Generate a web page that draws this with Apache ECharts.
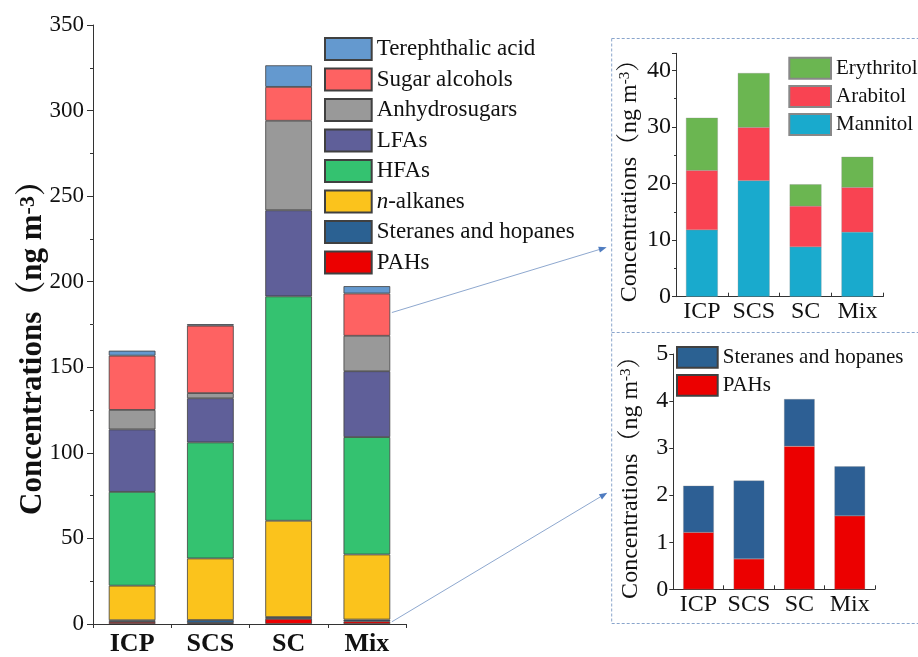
<!DOCTYPE html>
<html><head><meta charset="utf-8">
<script src="https://cdn.jsdelivr.net/npm/echarts@6/dist/echarts.min.js"></script>
<style>html,body{margin:0;padding:0;background:#fff}#c{width:918px;height:657px}</style>
</head><body><div id="c"></div>
<script>
// ---------- data ----------
const categories = ['ICP', 'SCS', 'SC', 'Mix'];
const pahs       = [1.21, 0.645, 3.04, 1.56];
const steranes   = [0.99, 1.665, 1.0, 1.05];
const nAlkanes   = [20.2, 36.0, 56.3, 38.0];
const hfas       = [54.8, 67.8, 131.1, 68.6];
const lfas       = [36.5, 25.8, 50.3, 38.5];
const anhydro    = [11.4, 3.0, 52.3, 20.7];
const sugarAlc   = [31.7, 39.4, 19.8, 24.7];
const tereph     = [2.9, 0.9, 12.6, 4.3];
const mannitol   = [11.8, 20.5, 8.8, 11.4];
const arabitol   = [10.5, 9.4, 7.2, 7.9];
const erythritol = [9.3, 9.6, 3.85, 5.4];
const mainTicks  = [0, 350, 50];
const sugarTicks = [0, 43, 10];
const pahTicks   = [0, 5, 1];

// ---------- styles ----------
const F = "'Liberation Serif', 'Noto Serif CJK SC', 'Noto Sans CJK SC', serif";
const mainColors = {
  'PAHs': '#ec0000', 'Steranes and hopanes': '#2b6192', 'n-alkanes': '#fbc31c',
  'HFAs': '#34c270', 'LFAs': '#5f5f99', 'Anhydrosugars': '#999999',
  'Sugar alcohols': '#fe6262', 'Terephthalic acid': '#6499cf'
};
const mainSeriesDef = [
  ['PAHs', pahs], ['Steranes and hopanes', steranes], ['n-alkanes', nAlkanes],
  ['HFAs', hfas], ['LFAs', lfas], ['Anhydrosugars', anhydro],
  ['Sugar alcohols', sugarAlc], ['Terephthalic acid', tereph]
];
const series = [];
mainSeriesDef.forEach(([name, data]) => {
  series.push({
    name, type: 'bar', stack: 'main', xAxisIndex: 0, yAxisIndex: 0, data,
    barWidth: 46.7,
    itemStyle: { color: mainColors[name], borderColor: '#404040', borderWidth: 0.8 }
  });
});
[['Mannitol', mannitol, '#19aacd'], ['Arabitol', arabitol, '#f94352'], ['Erythritol', erythritol, '#6bb651']]
  .forEach(([name, data, color]) => {
    series.push({ name, type: 'bar', stack: 'sugar', xAxisIndex: 1, yAxisIndex: 1, data,
      barWidth: 31.7, itemStyle: { color, borderColor: '#888', borderWidth: 0.3 } });
  });
[['PAHs', pahs, '#ec0000'], ['Steranes and hopanes', steranes, '#2d5f94']]
  .forEach(([name, data, color]) => {
    series.push({ name, type: 'bar', stack: 'pah', xAxisIndex: 2, yAxisIndex: 2, data,
      barWidth: 30.5, itemStyle: { color, borderColor: '#888', borderWidth: 0.3 } });
  });

const axisLineStyle = { color: '#333', width: 1 };
function catAxis(gi, size, bold, margin, inside) {
  return {
    type: 'category', gridIndex: gi, data: categories,
    axisLine: { lineStyle: axisLineStyle },
    axisTick: { show: true, inside, length: 4, lineStyle: axisLineStyle },
    axisLabel: { interval: 0, fontFamily: F, fontSize: size, fontWeight: bold ? 'bold' : 'normal', color: '#111', margin }
  };
}
const insetName = 'Concentrations（ng m{s|-3}）';
function valAxis(gi, t, size, margin, minor, name, nameGap) {
  const a = {
    type: 'value', gridIndex: gi, min: t[0], max: t[1], interval: t[2],
    axisLine: { show: true, lineStyle: axisLineStyle },
    axisTick: { show: true, length: gi === 0 ? 6 : 4, lineStyle: axisLineStyle },
    minorTick: { show: minor, splitNumber: 2, length: gi === 0 ? 3 : 2, lineStyle: axisLineStyle },
    splitLine: { show: false },
    axisLabel: { fontFamily: F, fontSize: size, color: '#111', margin,
      formatter: v => (Math.abs(v / t[2] - Math.round(v / t[2])) < 1e-6 ? String(v) : '') }
  };
  if (name) {
    a.name = name; a.nameLocation = 'middle'; a.nameGap = nameGap; a.nameRotate = 90;
    a.nameTextStyle = { fontFamily: F, fontSize: 24, color: '#111',
      rich: { s: { fontFamily: F, fontSize: 15, verticalAlign: 'top', lineHeight: 14, color: '#111' } } };
  }
  return a;
}

const chart = echarts.init(document.getElementById('c'));
chart.setOption({
  backgroundColor: '#fff',
  animation: false,
  grid: [
    { left: 93, top: 25, width: 313, height: 600.7 },
    { left: 676, top: 53.3, width: 207.3, height: 243.4 },
    { left: 673.3, top: 354, width: 201.7, height: 235.3 }
  ],
  xAxis: [catAxis(0, 26, true, 7, false), catAxis(1, 24, false, 3, true), catAxis(2, 24, false, 3, true)],
  yAxis: [
    valAxis(0, mainTicks, 23, 9, true),
    valAxis(1, sugarTicks, 24, 5, true, insetName, 34),
    valAxis(2, pahTicks, 24, 5, false, insetName, 31)
  ],
  legend: [
    {
      data: ['Terephthalic acid', 'Sugar alcohols', 'Anhydrosugars', 'LFAs', 'HFAs', 'n-alkanes', 'Steranes and hopanes', 'PAHs'],
      orient: 'vertical', left: 324, top: 37, padding: 0, icon: 'rect',
      itemWidth: 46.7, itemHeight: 22, itemGap: 6.5, selectedMode: false,
      formatter: n => n === 'n-alkanes' ? '{i|n}-alkanes' : n,
      textStyle: { fontFamily: F, fontSize: 23, color: '#111',
        rich: { i: { fontFamily: F, fontSize: 23, fontStyle: 'italic', color: '#111' } } }
    },
    {
      data: ['Erythritol', 'Arabitol', 'Mannitol'],
      orient: 'vertical', left: 788.3, top: 56.7, padding: 0, icon: 'rect',
      itemWidth: 41.7, itemHeight: 21, itemGap: 5.2, selectedMode: false,
      textStyle: { fontFamily: F, fontSize: 21, color: '#111' }
    },
    {
      data: ['Steranes and hopanes', 'PAHs'],
      orient: 'vertical', left: 676, top: 346, padding: 0, icon: 'rect',
      itemWidth: 40.7, itemHeight: 20.7, itemGap: 5.4, selectedMode: false,
      textStyle: { fontFamily: F, fontSize: 21, color: '#111' }
    }
  ],
  series
});

// ---------- annotations (title, connectors, dashed frames) ----------
function arrowPts(x1, y1, x2, y2) {
  const dx = x2 - x1, dy = y2 - y1, L = Math.hypot(dx, dy), ux = dx / L, uy = dy / L;
  const len = 8, w = 3, bx = x2 - ux * len, by = y2 - uy * len;
  return { base: [bx, by], pts: [[x2, y2], [bx - uy * w, by + ux * w], [bx + uy * w, by - ux * w]] };
}
const p1 = chart.convertToPixel({ xAxisIndex: 0, yAxisIndex: 0 }, [3, 182]);
const p2 = chart.convertToPixel({ xAxisIndex: 0, yAxisIndex: 0 }, [3, 1.3]);
const s1 = [p1[0] + 25, p1[1]], e1 = [606.7, 247.3];
const s2 = [p2[0] + 25, p2[1]], e2 = [607.3, 492.7];
const a1 = arrowPts(s1[0], s1[1], e1[0], e1[1]);
const a2 = arrowPts(s2[0], s2[1], e2[0], e2[1]);
const connColor = '#8ea8cf', dashColor = '#8aa5cc';
const dash = (x1, y1, x2, y2) => ({ type: 'line', silent: true,
  shape: { x1, y1, x2, y2 }, style: { stroke: dashColor, lineWidth: 1, lineDash: [3, 2] } });
chart.setOption({
  graphic: [
    { type: 'text', x: 33, y: 340, rotation: Math.PI / 2, silent: true,
      style: { text: 'Concentrations（ng m{s|-3}）', fontFamily: F, fontSize: 31, fontWeight: 'bold',
        fill: '#111', align: 'center', verticalAlign: 'middle',
        rich: { s: { fontFamily: F, fontSize: 22, fontWeight: 'bold', verticalAlign: 'top', lineHeight: 18, fill: '#111' } } } },
    { type: 'line', silent: true, shape: { x1: s1[0], y1: s1[1], x2: a1.base[0], y2: a1.base[1] },
      style: { stroke: connColor, lineWidth: 1 } },
    { type: 'polygon', silent: true, shape: { points: a1.pts }, style: { fill: '#4f7cc0' } },
    { type: 'line', silent: true, shape: { x1: s2[0], y1: s2[1], x2: a2.base[0], y2: a2.base[1] },
      style: { stroke: connColor, lineWidth: 1 } },
    { type: 'polygon', silent: true, shape: { points: a2.pts }, style: { fill: '#4f7cc0' } },
    dash(611.7, 38.5, 918, 38.5),
    dash(611.7, 38.5, 611.7, 623.5),
    dash(611.7, 332.5, 918, 332.5),
    dash(611.7, 623.5, 918, 623.5)
  ]
});
</script></body></html>
